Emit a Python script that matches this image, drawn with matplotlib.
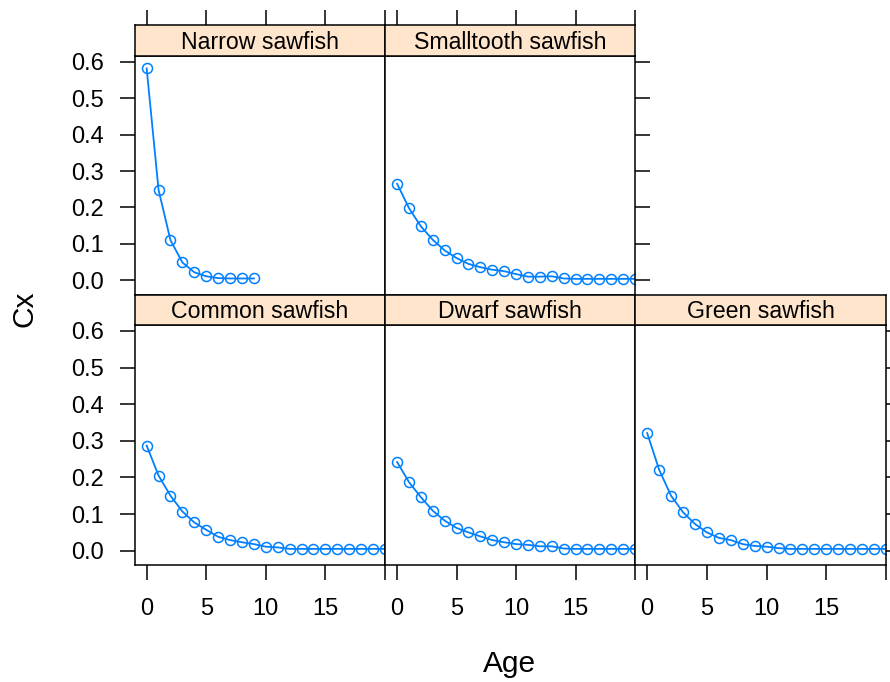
import matplotlib
matplotlib.use("Agg")
import matplotlib.pyplot as plt
import numpy as np

plt.rcParams['font.family'] = ['Liberation Sans', 'DejaVu Sans']

panels = ["Narrow sawfish", "Smalltooth sawfish", "Common sawfish", "Dwarf sawfish", "Green sawfish"]
age_narrow = list(range(10))
cx_narrow = [0.582, 0.248, 0.110, 0.049, 0.022, 0.011, 0.006, 0.005, 0.005, 0.005]
age_long = list(range(21))
cx_smalltooth = [0.265, 0.198, 0.148, 0.111, 0.082, 0.061, 0.045, 0.036, 0.029, 0.025, 0.017,
                 0.010, 0.010, 0.011, 0.005, 0.004, 0.004, 0.004, 0.004, 0.004, 0.004]
cx_common = [0.287, 0.205, 0.150, 0.107, 0.077, 0.057, 0.038, 0.029, 0.023, 0.018, 0.011,
             0.009, 0.005, 0.005, 0.005, 0.005, 0.005, 0.005, 0.005, 0.005, 0.005]
cx_dwarf = [0.242, 0.187, 0.146, 0.109, 0.082, 0.062, 0.050, 0.039, 0.029, 0.023, 0.018,
            0.016, 0.012, 0.012, 0.006, 0.005, 0.005, 0.005, 0.005, 0.005, 0.005]
cx_green = [0.321, 0.221, 0.150, 0.105, 0.073, 0.050, 0.035, 0.029, 0.018, 0.013, 0.011,
            0.007, 0.005, 0.005, 0.005, 0.005, 0.005, 0.005, 0.005, 0.005, 0.005]

data = [(age_narrow, cx_narrow), (age_long, cx_smalltooth), (age_long, cx_common),
        (age_long, cx_dwarf), (age_long, cx_green)]
xticks = [0, 5, 10, 15, 20]
xticklabels = ["0", "5", "10", "15", ""]
yticks = [0.0, 0.1, 0.2, 0.3, 0.4, 0.5, 0.6]
yticklabels = ["0.0", "0.1", "0.2", "0.3", "0.4", "0.5", "0.6"]

W, H = 890, 682
fig = plt.figure(figsize=(W / 100, H / 100), dpi=100)

def ax_px(l, t, r, b):
    return fig.add_axes([l / W, 1 - b / H, (r - l) / W, (b - t) / H])

col_l = [134.5, 385, 635]
col_r = [385, 635, 886]
rows = [(25, 56, 294.5), (295, 325, 565)]  # strip top, panel top, panel bottom
pos = [(0, 0), (0, 1), (1, 0), (1, 1), (1, 2)]

XL = (-1.02, 20)
YL = (-0.039, 0.616)
BLUE = "#0080ff"
STRIP = "#ffe5cc"
FS = 17
SFS = 16.7
TL = 10.5
TW = 1.1

for i, (name, (r, c)) in enumerate(zip(panels, pos)):
    st, pt, pb = rows[r]
    ax = ax_px(col_l[c], pt, col_r[c], pb)
    x, y = data[i]
    ax.plot(x, y, color=BLUE, lw=1.3, marker='o', mfc='none', mec=BLUE, ms=7.2, mew=1.1, clip_on=True)
    ax.set_xlim(*XL)
    ax.set_ylim(*YL)
    for s in ax.spines.values():
        s.set_linewidth(1.1)
    ax.set_xticks(xticks)
    ax.set_yticks(yticks)
    ax.tick_params(direction='out', length=TL, width=TW, labelsize=FS)
    if r == 1:
        ax.set_xticklabels(xticklabels)
        ax.tick_params(axis='x', bottom=True, labelbottom=True, pad=13)
    else:
        ax.tick_params(axis='x', bottom=False, labelbottom=False)
    left = (c == 0)
    right = (r == 0 and c == 1) or (r == 1 and c == 2)
    ax.set_yticklabels(yticklabels)
    ax.tick_params(axis='y', left=left, labelleft=left, right=right, labelright=False, pad=11.5)
    sax = ax_px(col_l[c], st, col_r[c], pt)
    sax.set_facecolor(STRIP)
    sax.set_xlim(*XL)
    sax.set_yticks([])
    for s in sax.spines.values():
        s.set_linewidth(1.1)
    if r == 0:
        sax.set_xticks(xticks)
        sax.tick_params(axis='x', top=True, bottom=False, labeltop=False, labelbottom=False,
                        direction='out', length=TL, width=TW)
    else:
        sax.set_xticks([])
    sax.text(0.5, 0.45, name, transform=sax.transAxes, ha='center', va='center', fontsize=SFS)

fig.text(25 / W, 1 - 309 / H, "Cx", rotation=90, ha='center', va='center', fontsize=21.5)
fig.text(510 / W, 1 - 664 / H, "Age", ha='center', va='center', fontsize=21.5)

fig.savefig("out.png", dpi=100)
